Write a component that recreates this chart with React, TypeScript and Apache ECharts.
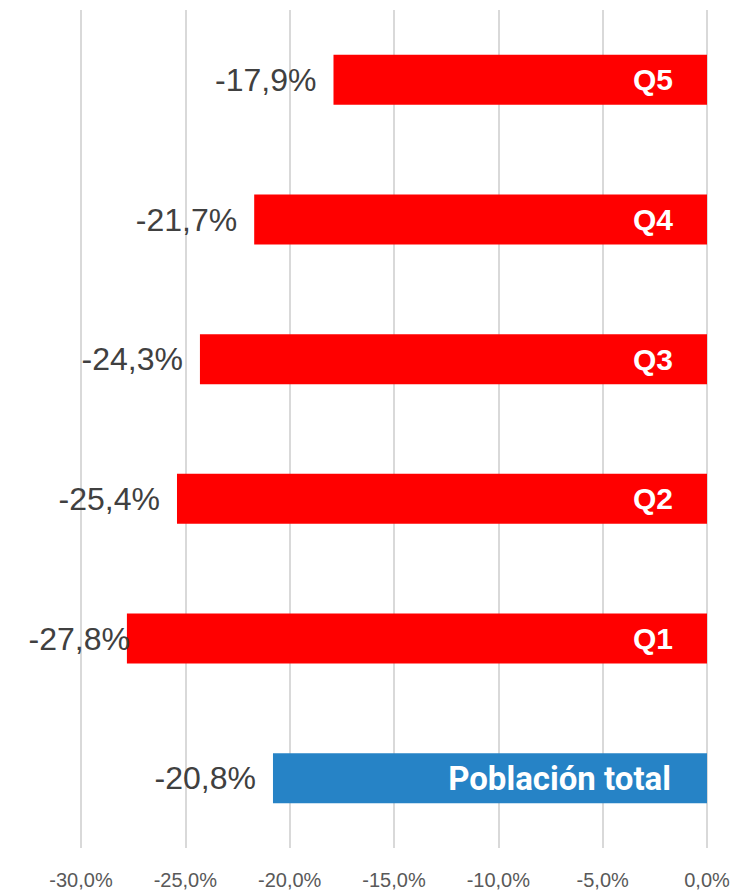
import React, { useEffect, useRef } from "react";
import * as echarts from "echarts";

const categories = ["Población total", "Q1", "Q2", "Q3", "Q4", "Q5"];
const values = [-20.8, -27.8, -25.4, -24.3, -21.7, -17.9];
const colors = ["#2683C6", "#FF0000", "#FF0000", "#FF0000", "#FF0000", "#FF0000"];
const axisTicks = [-30, -25, -20, -15, -10, -5, 0];

const fmt = (v: number) => v.toFixed(1).replace(".", ",") + "%";

export default function App() {
  const ref = useRef<HTMLDivElement>(null);
  useEffect(() => {
    if (!ref.current) return;
    const chart = echarts.init(ref.current, undefined, { renderer: "svg" });
    chart.setOption({
      animation: false,
      grid: { left: 81, right: 28, top: 10, bottom: 40 },
      xAxis: {
        type: "value",
        min: axisTicks[0],
        max: axisTicks[axisTicks.length - 1],
        interval: 5,
        axisLine: { show: false },
        axisTick: { show: false },
        splitLine: { lineStyle: { color: "#D9D9D9", width: 2 } },
        axisLabel: {
          formatter: (v: number) => fmt(v),
          color: "#595959",
          fontSize: 20,
          fontFamily: "Liberation Sans, Arial",
          margin: 22,
        },
      },
      yAxis: {
        type: "category",
        data: categories,
        show: false,
      },
      series: [
        {
          type: "bar",
          barWidth: 50,
          data: values.map((v, i) => ({
            value: v,
            itemStyle: { color: colors[i] },
            label: i === 1 ? { distance: -3 } : undefined,
          })),
          label: {
            show: true,
            position: "left",
            distance: 17,
            formatter: (p: any) => fmt(p.value),
            color: "#404040",
            fontSize: 32,
            fontFamily: "Liberation Sans, Arial",
          },
        },
        {
          type: "bar",
          barWidth: 50,
          barGap: "-100%",
          silent: true,
          data: values.map((v, i) => ({
            value: v,
            label:
              i === 0
                ? { fontFamily: "Roboto", fontSize: 33, fontWeight: "bold", distance: 36 }
                : undefined,
          })),
          itemStyle: { color: "transparent" },
          label: {
            show: true,
            position: "insideRight",
            distance: 34,
            formatter: (p: any) => categories[p.dataIndex],
            color: "#FFFFFF",
            fontSize: 30,
            fontWeight: "bold",
            fontFamily: "Liberation Sans, Arial",
          },
        },
      ],
    });
    return () => chart.dispose();
  }, []);
  return <div ref={ref} style={{ width: 735, height: 890, position: "absolute", left: 0, top: 0 }} />;
}
